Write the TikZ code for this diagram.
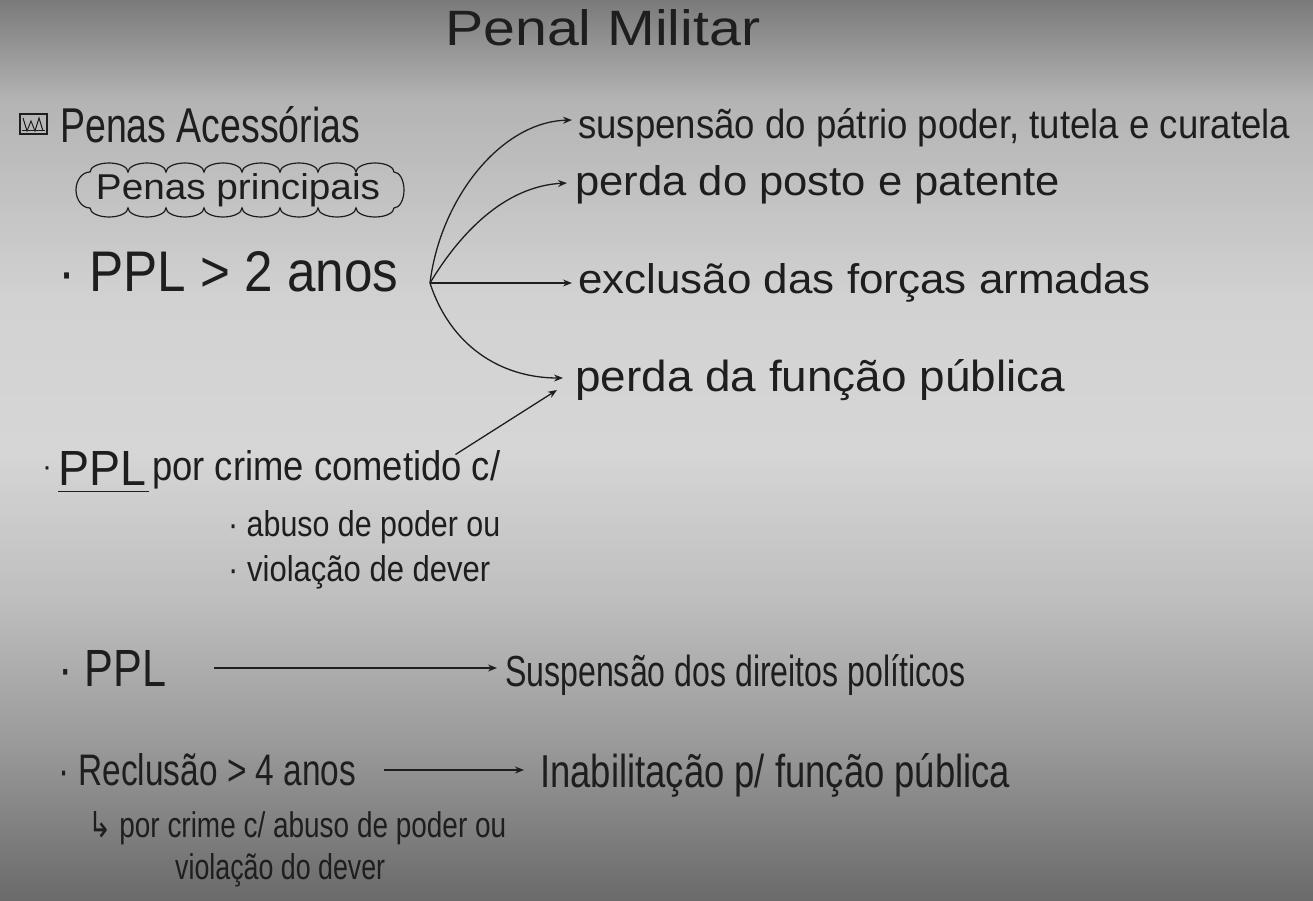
\documentclass[tikz,border=0pt]{standalone}
\usepackage{fontspec}
\setmainfont{Liberation Sans}
\newfontfamily\symfont{DejaVu Sans}
\usetikzlibrary{arrows.meta}
\definecolor{ink}{HTML}{1E1E1E}
\definecolor{bgA}{HTML}{7A7A7A}
\definecolor{bgB}{HTML}{B4B4B4}
\definecolor{bgC}{HTML}{D2D2D2}
\definecolor{bgD}{HTML}{D6D6D6}
\definecolor{bgE}{HTML}{BEBEBE}
\definecolor{bgF}{HTML}{989898}
\definecolor{bgG}{HTML}{6A6A6A}
\pgfdeclareverticalshading{paper}{100bp}{color(0bp)=(bgG); color(25bp)=(bgG); color(33.4bp)=(bgF); color(41.7bp)=(bgE); color(50bp)=(bgD); color(58.3bp)=(bgC); color(69.4bp)=(bgB); color(75bp)=(bgA); color(100bp)=(bgA)}
\newcommand\tw[3]{\resizebox{#1pt}{#2pt}{#3}}
\tikzset{
  txt/.style={inner sep=0pt, anchor=west, text=ink},
  link/.style={draw=ink, line width=1.3pt, -{Stealth[length=9pt,width=7pt]}},
  cloudline/.style={draw=ink, line width=1.2pt},
}
\begin{document}
\begin{tikzpicture}[x=1pt,y=-1pt]
\useasboundingbox (0,0) rectangle (1313,901);
\shade[shading=paper] (0,0) rectangle (1313,901);

% title
\node[txt] (title) at (445,28) {\tw{315}{36}{Penal Militar}};

% icon
\draw[ink, line width=1.2pt] (20,114) rectangle (47,134);
\draw[ink, line width=1pt] (23,118) -- (27,131) -- (31,121) -- (35,131) -- (39,118) -- (43,131);
\draw[ink, line width=1pt] (22,131) -- (45,131);

\node[txt] (acess) at (60,125) {\tw{300}{36}{Penas Acessórias}};

% cloud round "Penas principais"
\draw[cloudline] (90,208) arc[start angle=90, end angle=270, x radius=14, y radius=18]
  \foreach \i in {1,...,8} { arc[start angle=180, end angle=360, x radius=19, y radius=9] }
  arc[start angle=270, end angle=450, x radius=10, y radius=18]
  \foreach \i in {1,...,8} { arc[start angle=0, end angle=180, x radius=19, y radius=9] }
  -- cycle;
\node[txt, anchor=center] (princ) at (238,190) {\tw{284}{26}{Penas principais}};

\node[txt] (ppl1) at (58,272) {\tw{340}{40}{· PPL > 2 anos}};
\coordinate (br) at (430,283);

\node[txt] (s1) at (578,128) {\tw{712}{30}{suspensão do pátrio poder, tutela e curatela}};
\node[txt] (s2) at (575,185) {\tw{485}{30}{perda do posto e patente}};
\node[txt] (s3) at (578,283) {\tw{572}{30}{exclusão das forças armadas}};
\node[txt] (s4) at (575,380) {\tw{490}{32}{perda da função pública}};

\draw[link] (br) .. controls (440,200) and (500,122) .. ([xshift=-6pt,yshift=8pt]s1.west);
\draw[link] (br) .. controls (465,225) and (510,186) .. ([xshift=-8pt,yshift=2pt]s2.west);
\draw[link] (br) -- ([xshift=-6pt]s3.west);
\draw[link] (br) .. controls (450,345) and (500,378) .. ([xshift=-12pt,yshift=2pt]s4.west);

% PPL por crime
\node[txt] (dot2) at (42,472) {\fontsize{30}{30}\selectfont ·};
\node[txt] (ppl2) at (58,468) {\tw{88}{34}{PPL}};
\draw[ink, line width=1.3pt] ([yshift=-6pt]ppl2.south west) -- ([yshift=-6pt,xshift=3pt]ppl2.south east);
\node[txt] (crime) at (152,470) {\tw{348}{30}{por crime cometido c/}};
\node[txt] (abuso) at (228,527) {\tw{272}{26}{· abuso de poder ou}};
\node[txt] (viol) at (228,572) {\tw{262}{26}{· violação de dever}};
\draw[link] ([xshift=-45pt,yshift=-4pt]crime.north east) -- ([xshift=-18pt,yshift=-10pt]s4.west);

% PPL -> suspensao
\node[txt] (ppl3) at (58,668) {\tw{108}{36}{· PPL}};
\node[txt] (sdp) at (505,675) {\tw{460}{32}{Suspensão dos direitos políticos}};
\draw[link, shorten <=48pt, shorten >=8pt] (ppl3.east) -- (ppl3.east -| sdp.west);

% Reclusao
\node[txt] (recl) at (58,770) {\tw{298}{32}{· Reclusão > 4 anos}};
\node[txt] (inab) at (540,775) {\tw{470}{34}{Inabilitação p/ função pública}};
\draw[link, shorten <=28pt, shorten >=16pt] (recl.east) -- (recl.east -| inab.west);
\node[txt] (crime2) at (88,828) {\tw{418}{26}{{\symfont ↳} por crime c/ abuso de poder ou}};
\node[txt] (viol2) at (175,870) {\tw{210}{26}{violação do dever}};
\end{tikzpicture}
\end{document}
